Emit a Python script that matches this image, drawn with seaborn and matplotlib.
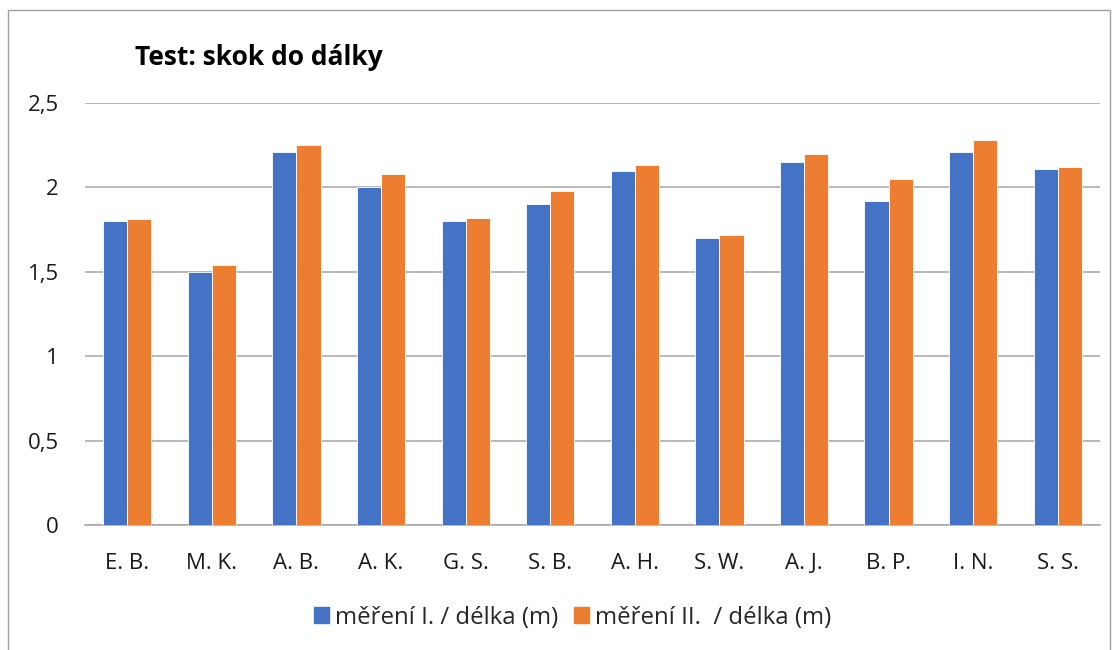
import matplotlib

matplotlib.use("Agg")
import matplotlib.pyplot as plt
import matplotlib.patches as mpatches
import pandas as pd
import seaborn as sns

# data
students = ["E. B.", "M. K.", "A. B.", "A. K.", "G. S.", "S. B.",
            "A. H.", "S. W.", "A. J.", "B. P.", "I. N.", "S. S."]
mereni_1 = [1.80, 1.50, 2.21, 2.00, 1.80, 1.90, 2.10, 1.70, 2.15, 1.92, 2.21, 2.11]
mereni_2 = [1.81, 1.54, 2.25, 2.08, 1.82, 1.98, 2.13, 1.72, 2.20, 2.05, 2.28, 2.12]
series = ["měření I. / délka (m)", "měření II.  / délka (m)"]
y_ticks = [0, 0.5, 1, 1.5, 2, 2.5]
y_labels = ["0", "0,5", "1", "1,5", "2", "2,5"]

BLUE = "#4472C4"
ORANGE = "#ED7D31"
GRID = "#A6A6A6"
FS = 16

df = pd.DataFrame({
    "student": students * 2,
    "value": mereni_1 + mereni_2,
    "series": [series[0]] * len(students) + [series[1]] * len(students),
})

sns.set_theme(style="white")
plt.rcParams["font.family"] = ["Open Sans", "DejaVu Sans"]

fig = plt.figure(figsize=(11.16, 6.5), dpi=100)
ax = fig.add_axes([0.0762, 0.1923, 0.9095, 0.6492])

sns.barplot(data=df, x="student", y="value", hue="series",
            palette=[BLUE, ORANGE], saturation=1, width=0.57, gap=0,
            edgecolor="white", linewidth=0.6, ax=ax, zorder=3)

ax.set_ylim(0, 2.5)
ax.set_xlim(-0.5, len(students) - 0.5)
ax.set_yticks(y_ticks)
ax.set_yticklabels(y_labels)
ax.yaxis.grid(True, color=GRID, linewidth=1.1, zorder=0)
ax.set_axisbelow(True)
for side in ["top", "right", "left"]:
    ax.spines[side].set_visible(False)
ax.spines["bottom"].set_color(GRID)
ax.spines["bottom"].set_linewidth(1.1)
ax.tick_params(axis="both", length=0, labelsize=FS, colors="#1a1a1a")
ax.tick_params(axis="y", pad=19)
ax.tick_params(axis="x", pad=20)
ax.set_xlabel("")
ax.set_ylabel("")

ax.legend_.remove()
handles = [mpatches.Patch(color=BLUE, label=series[0]),
           mpatches.Patch(color=ORANGE, label=series[1])]
fig.legend(handles=handles, loc="center", bbox_to_anchor=(0.513, 0.050),
           ncol=2, frameon=False, fontsize=17.3, handlelength=0.62,
           handleheight=0.62, handletextpad=0.25, columnspacing=0.65)

fig.text(135 / 1116, 1 - 65 / 650, "Test: skok do dálky", fontsize=19,
         fontweight="bold", va="baseline", ha="left", color="black")

# outer chart border
border = mpatches.Rectangle((8 / 1116, -0.02), 1102 / 1116, 1 - 10 / 650 + 0.02,
                            transform=fig.transFigure, fill=False,
                            edgecolor="#A0A0A0", linewidth=1.0)
fig.patches.append(border)

fig.savefig("out.png", dpi=100)
